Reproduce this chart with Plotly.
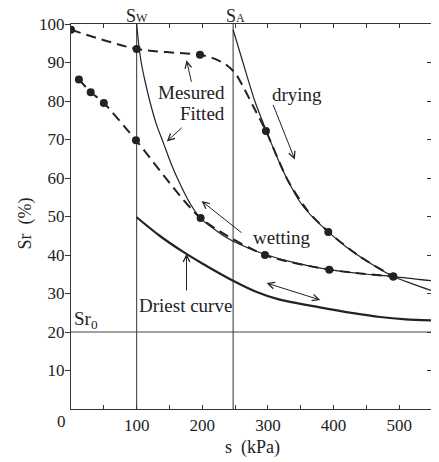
import plotly.graph_objects as go

# ---------------- data ----------------
S_W = 100          # kPa, vertical line S_W
S_A = 247          # kPa, vertical line S_A
SR0 = 20           # %, horizontal line Sr0

# measured points
drying_meas_s = [0, 100, 196.5, 297, 392, 491]
drying_meas_sr = [98.5, 93.5, 92.0, 72.2, 46.0, 34.4]
wetting_meas_s = [12, 30, 50, 99, 197.5, 295.5, 393.5, 491]
wetting_meas_sr = [85.6, 82.3, 79.5, 69.8, 49.6, 40.0, 36.2, 34.4]

# dashed curve through the drying measurements
drying_dash_s = [0, 100, 196.5, 215, 235, 250, 262, 278, 297, 330, 360, 392, 440, 491]
drying_dash_sr = [98.5, 93.5, 92.0, 91.2, 89.6, 87.3, 83.8, 78.5, 72.2, 59.5, 51.6, 46.0, 39.6, 34.4]

# fitted curves
drying_fit_s = [247, 262, 280, 297, 315, 330, 350, 370, 392, 420, 450, 491, 520, 550]
drying_fit_sr = [98.5, 90.0, 80.0, 72.5, 65.0, 59.5, 53.5, 49.5, 46.0, 42.0, 38.5, 34.4, 32.5, 30.7]
wetting_fit_s = [100, 103, 107, 113, 120, 130, 141, 153, 166, 181, 197, 220, 240, 270, 295, 340, 393, 440, 491, 550]
wetting_fit_sr = [100, 95.0, 90.0, 85.0, 80.0, 74.0, 69.0, 63.5, 58.5, 53.5, 49.6, 46.5, 44.2, 41.8, 40.2, 38.0, 36.2, 35.2, 34.4, 33.3]

# driest curve
driest_s = [100, 135, 171, 200, 247, 280, 318, 379, 430, 471, 510, 550]
driest_sr = [49.8, 45.0, 40.8, 37.8, 33.3, 30.6, 28.4, 26.4, 24.9, 23.9, 23.3, 23.0]

# axes ticks
x_tickvals = [50, 100, 150, 200, 250, 300, 350, 400, 450, 500]
x_ticktext = ["", "100", "", "200", "", "300", "", "400", "", "500"]
y_tickvals = [10, 20, 30, 40, 50, 60, 70, 80, 90, 100]
y_ticktext = ["10", "20", "30", "40", "50", "60", "70", "80", "90", "100"]

X_RANGE = [0, 550]
Y_RANGE = [0, 100]

# ---------------- styles ----------------
FONT = "Liberation Serif"
INK = "#222222"
AXC = "#363636"
REF = "#444444"

fig = go.Figure()

# reference lines
fig.add_trace(go.Scatter(x=[S_W, S_W], y=Y_RANGE, mode="lines",
                         line=dict(color=REF, width=1.1), hoverinfo="skip", showlegend=False))
fig.add_trace(go.Scatter(x=[S_A, S_A], y=Y_RANGE, mode="lines",
                         line=dict(color=REF, width=1.1), hoverinfo="skip", showlegend=False))
fig.add_trace(go.Scatter(x=X_RANGE, y=[SR0, SR0], mode="lines",
                         line=dict(color=REF, width=1.1), hoverinfo="skip", showlegend=False))

# fitted curves (thin)
fig.add_trace(go.Scatter(x=wetting_fit_s, y=wetting_fit_sr, mode="lines",
                         line=dict(color=INK, width=1.2, shape="spline", smoothing=0.8),
                         showlegend=False))
fig.add_trace(go.Scatter(x=drying_fit_s, y=drying_fit_sr, mode="lines",
                         line=dict(color=INK, width=1.2, shape="spline", smoothing=0.8),
                         showlegend=False))

# driest curve (thick)
fig.add_trace(go.Scatter(x=driest_s, y=driest_sr, mode="lines",
                         line=dict(color=INK, width=2.2, shape="spline", smoothing=0.8),
                         showlegend=False))

# dashed measured curves
fig.add_trace(go.Scatter(x=drying_dash_s, y=drying_dash_sr, mode="lines",
                         line=dict(color=INK, width=2, dash="10px,6px", shape="spline", smoothing=0.7),
                         showlegend=False))
fig.add_trace(go.Scatter(x=wetting_meas_s, y=wetting_meas_sr, mode="lines",
                         line=dict(color=INK, width=2, dash="10px,6px", shape="spline", smoothing=0.7),
                         showlegend=False))

# measured markers
fig.add_trace(go.Scatter(x=drying_meas_s, y=drying_meas_sr, mode="markers",
                         marker=dict(color=INK, size=8, symbol="circle"), showlegend=False))
fig.add_trace(go.Scatter(x=wetting_meas_s, y=wetting_meas_sr, mode="markers",
                         marker=dict(color=INK, size=8, symbol="circle"), showlegend=False))

# invisible trace for mirror axes
fig.add_trace(go.Scatter(x=X_RANGE, y=Y_RANGE, xaxis="x2", yaxis="y2", mode="markers",
                         marker=dict(opacity=0), hoverinfo="skip", showlegend=False))

tf = dict(family=FONT, size=17, color=INK)

annotations = []

def arrow(hx, hy, tx, ty, both=False):
    annotations.append(dict(x=hx, y=hy, ax=tx, ay=ty, xref="x", yref="y", axref="x", ayref="y",
                            text="", showarrow=True, arrowhead=5, arrowsize=1.3, arrowwidth=1,
                            arrowcolor=INK, arrowside="end+start" if both else "end",
                            startarrowhead=5, startarrowsize=1.3))

def label(x, y, text, xanchor="center", yanchor="middle", xref="x", yref="y", size=19, angle=0, yshift=0):
    annotations.append(dict(x=x, y=y, xref=xref, yref=yref, text=text, showarrow=False,
                            xanchor=xanchor, yanchor=yanchor, textangle=angle, yshift=yshift,
                            font=dict(family=FONT, size=size, color=INK)))

label(238, 82.2, "Mesured", xanchor="right")
label(238, 76.8, "Fitted", xanchor="right")
arrow(176, 90.6, 184, 84.6)
arrow(146, 69.5, 171, 73.4)
label(345, 81.6, "drying")
arrow(341, 64.8, 307, 79.4)
label(321, 44.6, "wetting")
arrow(199, 54.0, 262, 45.5)
arrow(298, 32.7, 382, 28.2, both=True)
label(174, 26.9, "Driest curve")
arrow(176, 40.3, 176, 30.4)
label(2, 19.6, "Sr<sub>0</sub>", xanchor="left", yanchor="bottom")
label(S_W, 1.0, "S<span style='font-size:12px'>W</span>", yref="paper", yanchor="bottom", size=18, yshift=-4)
label(S_A + 4, 1.0, "S<span style='font-size:12px'>A</span>", yref="paper", yanchor="bottom", size=18, yshift=-4)
label(-0.026, -0.032, "0", xref="paper", yref="paper", size=17)
label(0.504, -0.1, "s  (kPa)", xref="paper", yref="paper", size=18)
label(-0.127, 0.482, "Sr  (%)", xref="paper", yref="paper", size=18, angle=-90)

# the page body adds an 8px offset, so the figure is sized / margined to compensate
fig.update_layout(
    width=431, height=454,
    margin=dict(l=63, r=7, t=14, b=53),
    paper_bgcolor="white", plot_bgcolor="white",
    showlegend=False,
    font=dict(family=FONT, color=INK),
    annotations=annotations,
    xaxis=dict(range=X_RANGE, showgrid=False, zeroline=False, showline=True, linecolor=AXC, linewidth=1.2,
               ticks="inside", ticklen=4, tickcolor=AXC, tickvals=x_tickvals, ticktext=x_ticktext,
               tickfont=tf),
    yaxis=dict(range=Y_RANGE, showgrid=False, zeroline=False, showline=True, linecolor=AXC, linewidth=1.2,
               ticks="outside", ticklen=5, tickcolor=AXC, tickvals=y_tickvals, ticktext=y_ticktext,
               tickfont=tf, ticklabelstandoff=-3),
    xaxis2=dict(range=X_RANGE, overlaying="x", side="top", showgrid=False, zeroline=False, showline=True,
                linecolor=AXC, linewidth=1.2, ticks="inside", ticklen=4, tickcolor=AXC,
                tickvals=x_tickvals, showticklabels=False),
    yaxis2=dict(range=Y_RANGE, overlaying="y", side="right", showgrid=False, zeroline=False, showline=True,
                linecolor=AXC, linewidth=1.2, ticks="inside", ticklen=5, tickcolor=AXC,
                tickvals=y_tickvals, showticklabels=False),
)

fig.write_html("out.html")
